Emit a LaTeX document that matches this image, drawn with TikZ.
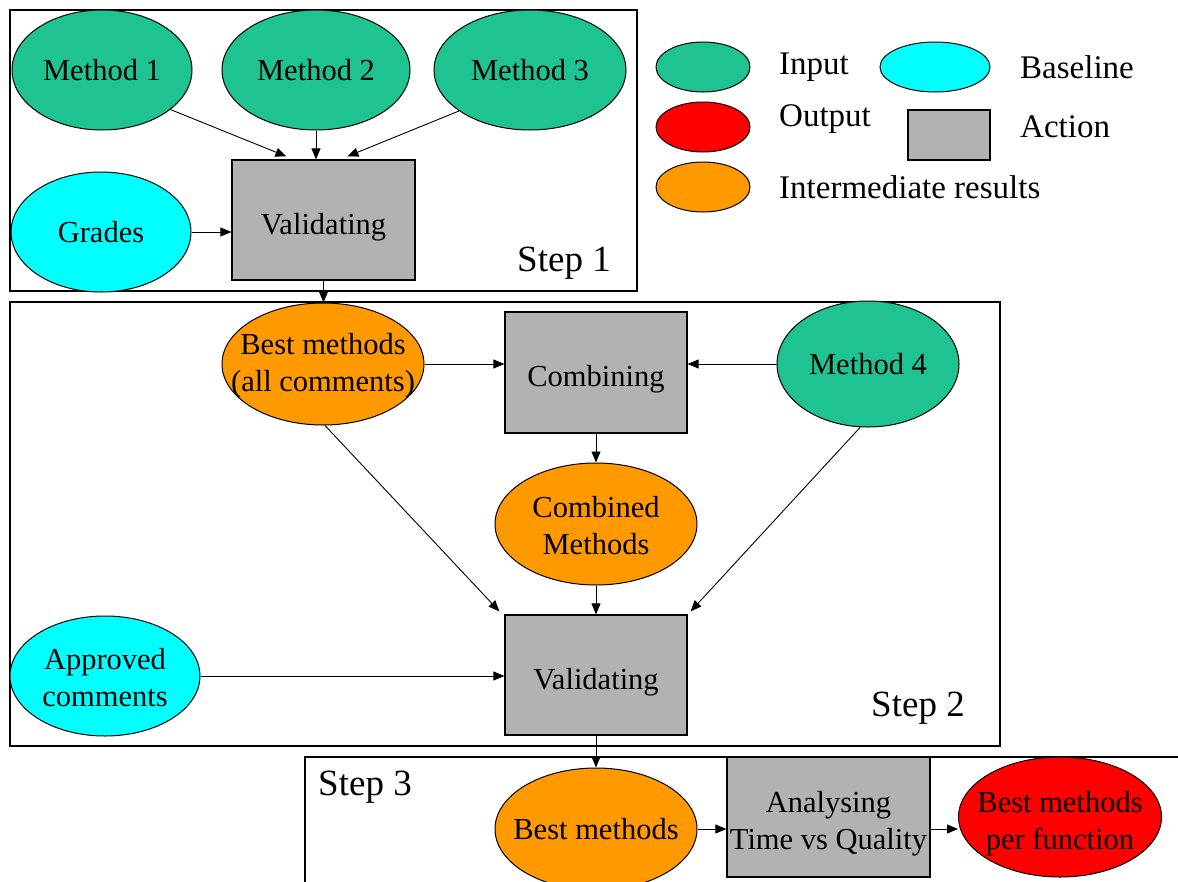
\documentclass[tikz,border=0pt]{standalone}
\usepackage{fontspec}
\setmainfont{Liberation Serif}
\usetikzlibrary{shapes.geometric,arrows.meta,calc}
\definecolor{ingreen}{RGB}{30,195,145}
\definecolor{basecyan}{RGB}{0,255,255}
\definecolor{midorange}{RGB}{255,153,0}
\definecolor{outred}{RGB}{255,0,0}
\definecolor{actgray}{RGB}{178,178,178}
\newcommand\ndfont{\fontsize{30.5}{37}\selectfont}
\newcommand\lgfont{\fontsize{33}{37}\selectfont}
\newcommand\stfont{\fontsize{37}{40}\selectfont}
\tikzset{
  ell/.style={ellipse, draw=black, line width=1pt, inner sep=0pt},
  actbox/.style={rectangle, draw=black, line width=1.2pt, fill=actgray, inner sep=0pt},
  txt/.style={label={[font=\ndfont, align=center, inner sep=0pt, yshift=0pt]center:#1}},
  txttwo/.style={label={[font=\ndfont, align=center, inner sep=0pt, yshift=-2pt]center:#1}},
  txtlow/.style={label={[font=\ndfont, align=center, inner sep=0pt, yshift=-7pt]center:#1}},
  arr/.style={-{Triangle[length=11pt,width=9pt]}, line width=0.9pt},
  frame/.style={draw=black, line width=1.3pt},
  legtext/.style={anchor=west, inner sep=0pt, font=\lgfont},
  steplabel/.style={inner sep=0pt, font=\stfont},
}
\begin{document}
\begin{tikzpicture}[x=1pt,y=-1pt]
\useasboundingbox (0,0) rectangle (1178,881);
\clip (0,0) rectangle (1178,881);
% frames
\draw[frame] (10,10) rectangle (637,291);
\draw[frame] (10,302) rectangle (1000,746);
\draw[frame] (305,757) rectangle (1200,900);
% step 1
\node[ell, fill=ingreen, minimum width=180pt, minimum height=120pt, txt={Method 1}] (m1) at (102,70) {};
\node[ell, fill=ingreen, minimum width=188pt, minimum height=120pt, txt={Method 2}] (m2) at (316,70) {};
\node[ell, fill=ingreen, minimum width=192pt, minimum height=120pt, txt={Method 3}] (m3) at (530,70) {};
\node[ell, fill=basecyan, minimum width=180pt, minimum height=120pt, txt={Grades}] (gr) at (101,232) {};
\node[actbox, minimum width=183pt, minimum height=120pt, txtlow={Validating}] (v1) at (323.5,220) {};
\node[steplabel] (s1) at (564,263) {Step 1};
% legend
\node[ell, fill=ingreen, minimum width=94pt, minimum height=50pt] (li) at (703,67) {};
\node[ell, fill=outred, minimum width=94pt, minimum height=50pt] (lo) at (703,127) {};
\node[ell, fill=midorange, minimum width=94pt, minimum height=50pt] (lm) at (703,187) {};
\node[ell, fill=basecyan, minimum width=110pt, minimum height=50pt] (lb) at (935,67) {};
\node[actbox, minimum width=82pt, minimum height=50pt] (la) at (949,135) {};
\node[legtext] (tin) at (779,67) {Input};
\node[legtext] (tout) at (779,119) {Output};
\node[legtext] (tint) at (779,187) {Intermediate results};
\node[legtext] (tbase) at (1020,67) {Baseline};
\node[legtext] (tact) at (1020,127) {Action};
% step 2
\node[ell, fill=midorange, minimum width=202pt, minimum height=122pt, txttwo={Best methods\\(all comments)}] (bm) at (323,364) {};
\node[actbox, minimum width=182pt, minimum height=121pt, txtlow={Combining}] (cb) at (596,372.5) {};
\node[ell, fill=ingreen, minimum width=182pt, minimum height=126pt, txt={Method 4}] (m4) at (868,364) {};
\node[ell, fill=midorange, minimum width=202pt, minimum height=122pt, txttwo={Combined\\Methods}] (cmb) at (596,524) {};
\node[actbox, minimum width=182pt, minimum height=120pt, txtlow={Validating}] (v2) at (596,675) {};
\node[ell, fill=basecyan, minimum width=190pt, minimum height=120pt, txttwo={Approved\\comments}] (ap) at (105,676) {};
\node[steplabel] (s2) at (918,708) {Step 2};
% step 3
\node[ell, fill=midorange, minimum width=202pt, minimum height=122pt, txt={Best methods}] (b3) at (596,829) {};
\node[actbox, minimum width=203pt, minimum height=120pt, txtlow={Analysing\\Time vs Quality}] (an) at (828.5,817) {};
\node[ell, fill=outred, minimum width=203pt, minimum height=120pt, txtlow={Best methods\\per function}] (out) at (1060,817) {};
\node[steplabel] (s3) at (365,787) {Step 3};
% connectors step 1
\draw[arr] (m1.-30) -- ([shift={(55,-3)}]v1.north west);
\draw[arr] (m2.south) -- (m2.south |- v1.north);
\draw[arr] (m3.-150) -- ([shift={(116,-3)}]v1.north west);
\draw[arr] (gr) -- (gr -| v1.west);
\draw[arr] (v1.south) -- (v1.south |- bm.north);
% connectors step 2
\draw[arr] (bm) -- (bm -| cb.west);
\draw[arr] (m4) -- (m4 -| cb.east);
\draw[arr] (cb.south) -- (cb.south |- cmb.north);
\draw[arr] (cmb.south) -- (cmb.south |- v2.north);
\draw[arr] ([xshift=2pt]bm.south) -- ([shift={(-5,-3)}]v2.north west);
\draw[arr] ([xshift=-8pt]m4.south) -- ([shift={(3,-3)}]v2.north east);
\draw[arr] (ap) -- (ap -| v2.west);
\draw[arr] (v2.south) -- (v2.south |- b3.north);
% connectors step 3
\draw[arr] (b3) -- (b3 -| an.west);
\draw[arr] (an.east |- b3) -- (out.west |- b3);
\end{tikzpicture}
\end{document}
